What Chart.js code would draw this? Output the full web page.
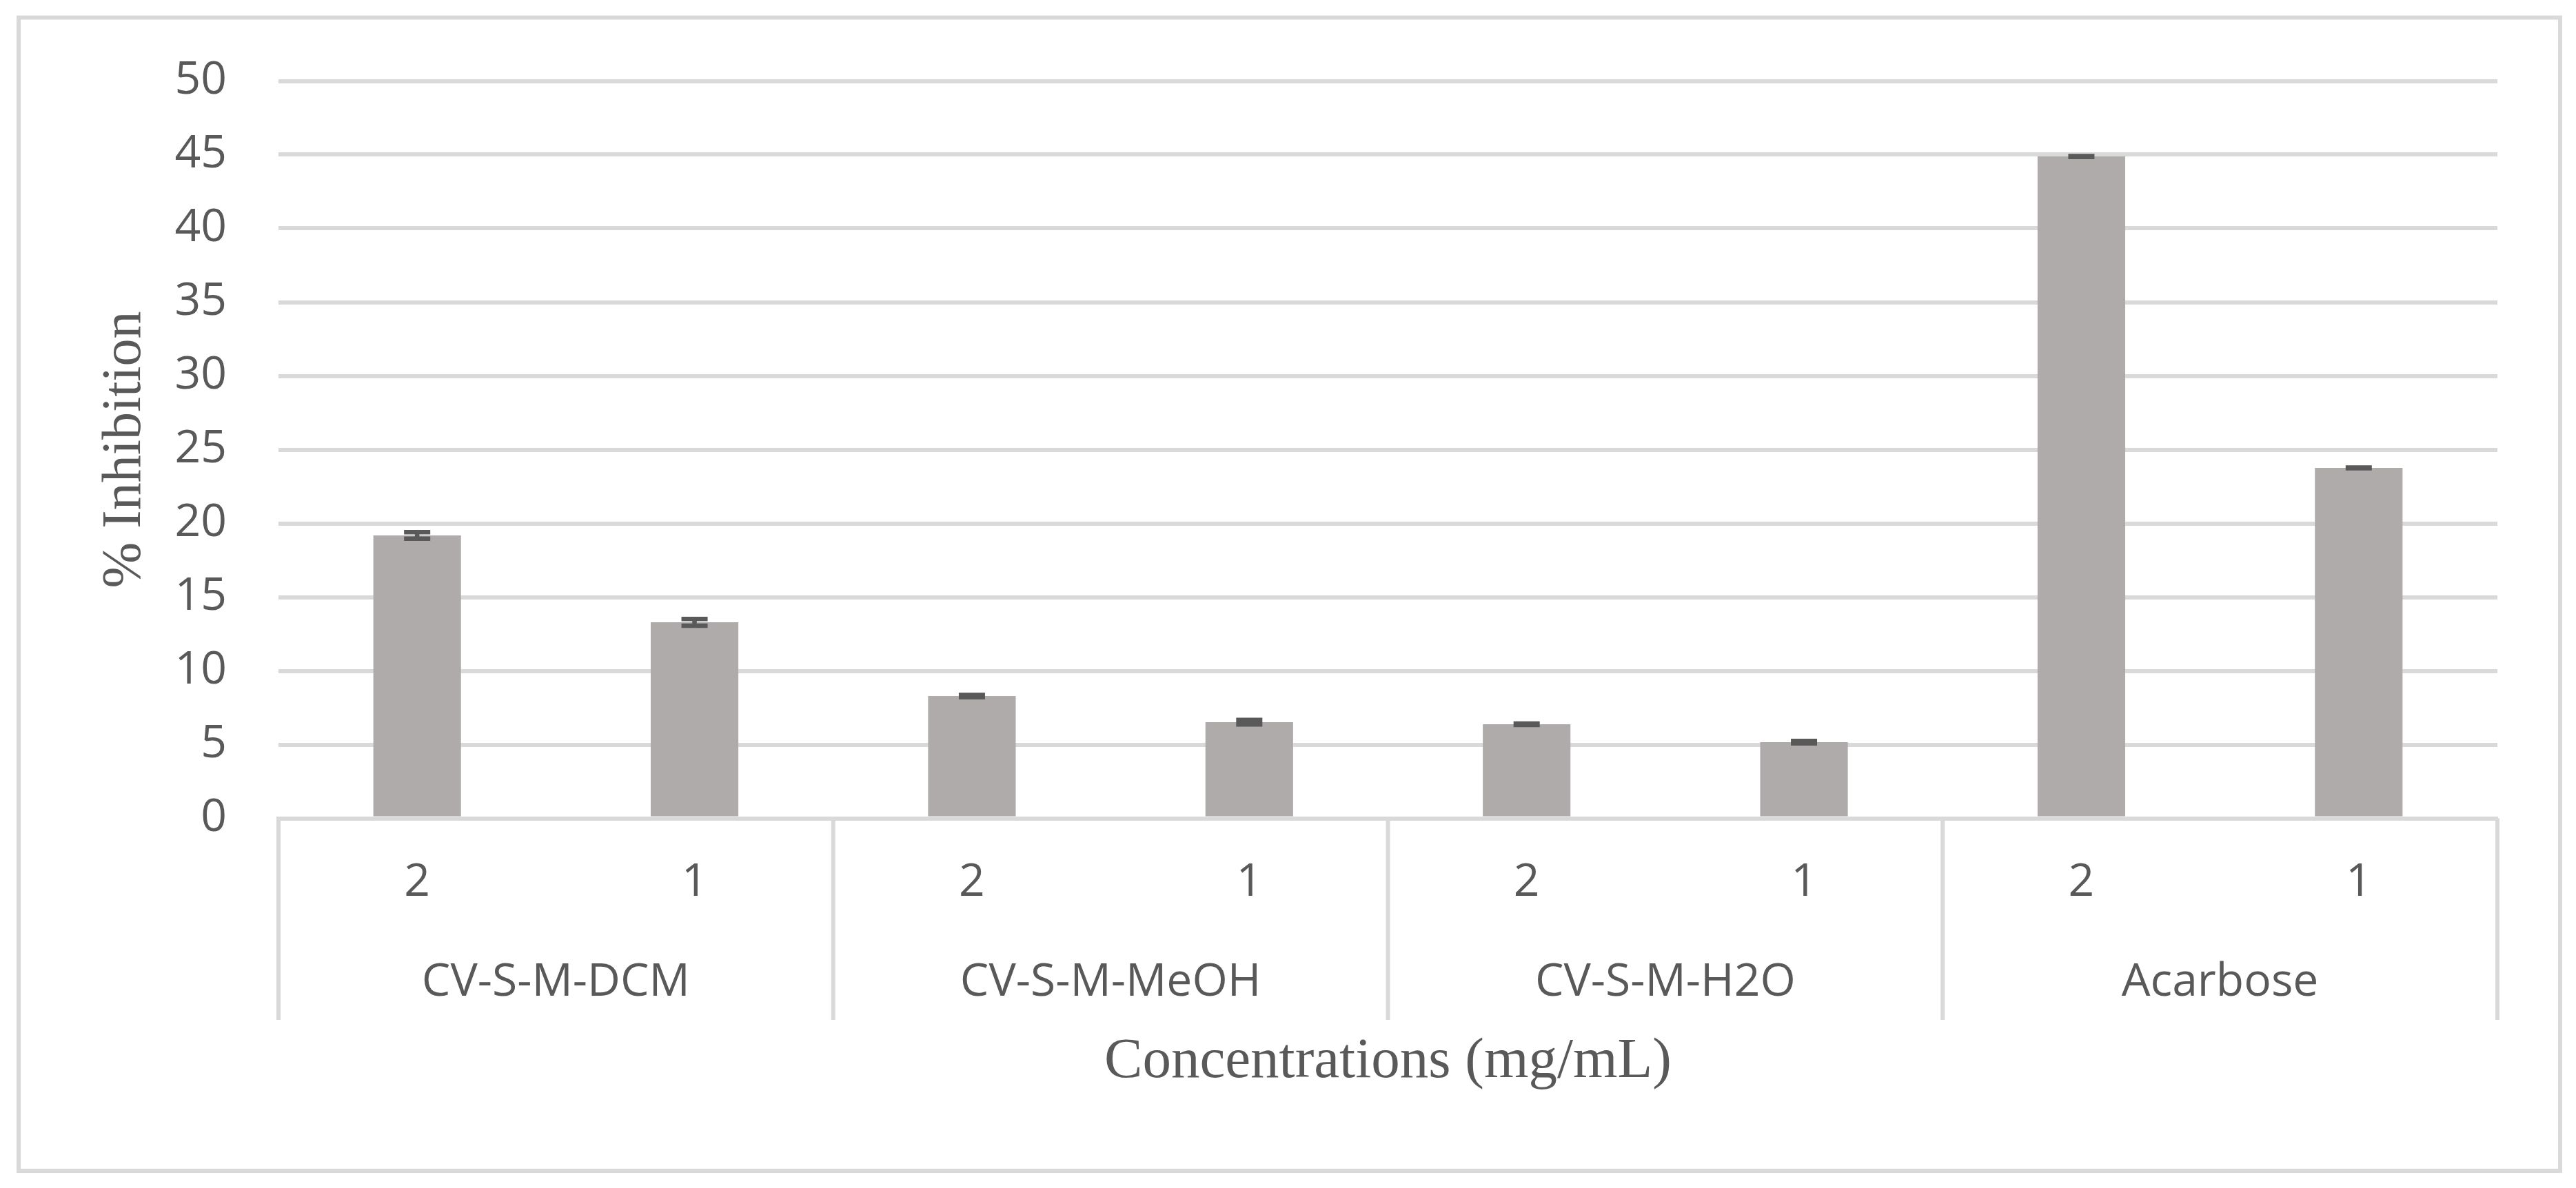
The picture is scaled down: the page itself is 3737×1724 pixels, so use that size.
<!DOCTYPE html>
<html>
<head>
<meta charset="utf-8">
<script src="https://cdn.jsdelivr.net/npm/chart.js@4.4.1/dist/chart.umd.min.js"></script>
<style>
  html, body { margin: 0; padding: 0; background: #fff; }
  canvas { display: block; }
</style>
</head>
<body>
<canvas id="chart" width="3737" height="1724"></canvas>
<script>
// data
const groups = ['CV-S-M-DCM', 'CV-S-M-MeOH', 'CV-S-M-H2O', 'Acarbose'];
const concentrations = ['2', '1', '2', '1', '2', '1', '2', '1'];
const inhibition = [19.18, 13.29, 8.29, 6.52, 6.38, 5.16, 44.88, 23.76];
const errors = [0.22, 0.23, 0.08, 0.15, 0.05, 0.08, 0.03, 0.02];
const yTicks = [0, 5, 10, 15, 20, 25, 30, 35, 40, 45, 50];

const gridColor = '#d9d9d9';
const textColor = '#595959';

// white background + light frame round the whole chart
const framePlugin = {
  id: 'frame',
  beforeDraw(chart) {
    const ctx = chart.ctx;
    ctx.save();
    ctx.fillStyle = '#fff';
    ctx.fillRect(0, 0, chart.width, chart.height);
    ctx.strokeStyle = gridColor;
    ctx.lineWidth = 6;
    ctx.strokeRect(27, 25.5, 3714 - 27, 1699 - 25.5);
    ctx.restore();
  }
};

// error bars, from the errors array through the y scale
const errorBarPlugin = {
  id: 'errorBars',
  afterDatasetsDraw(chart) {
    const ctx = chart.ctx;
    const y = chart.scales.y;
    const meta = chart.getDatasetMeta(0);
    ctx.save();
    ctx.strokeStyle = '#595959';
    ctx.lineWidth = 6.5;
    meta.data.forEach((bar, i) => {
      const v = inhibition[i];
      const e = errors[i];
      const top = y.getPixelForValue(v + e);
      const bot = y.getPixelForValue(v - e);
      const cx = bar.x;
      ctx.beginPath();
      ctx.moveTo(cx, top);
      ctx.lineTo(cx, bot);
      ctx.moveTo(cx - 19, top);
      ctx.lineTo(cx + 19, top);
      ctx.moveTo(cx - 19, bot);
      ctx.lineTo(cx + 19, bot);
      ctx.stroke();
    });
    ctx.restore();
  }
};

// second level of the category axis: group boxes and names
const groupAxisPlugin = {
  id: 'groupAxis',
  afterDraw(chart) {
    const ctx = chart.ctx;
    const x = chart.scales.x;
    const per = concentrations.length / groups.length;
    const cw = (x.right - x.left) / concentrations.length;
    const top = x.top;
    const bottom = 1480;
    ctx.save();
    ctx.strokeStyle = gridColor;
    ctx.lineWidth = 6;
    for (let k = 0; k <= groups.length; k++) {
      const px = x.left + k * per * cw;
      ctx.beginPath();
      ctx.moveTo(px, top);
      ctx.lineTo(px, bottom);
      ctx.stroke();
    }
    ctx.fillStyle = textColor;
    ctx.font = '66px "Open Sans"';
    ctx.textAlign = 'center';
    ctx.textBaseline = 'middle';
    groups.forEach((g, k) => {
      const a = x.getPixelForTick(k * per);
      const b = x.getPixelForTick(k * per + per - 1);
      ctx.fillText(g, (a + b) / 2, 1426);
    });
    ctx.restore();
  }
};

const ctx = document.getElementById('chart').getContext('2d');
const chart = new Chart(ctx, {
  type: 'bar',
  data: {
    labels: concentrations,
    datasets: [{
      label: '% Inhibition',
      data: inhibition,
      backgroundColor: '#afabab',
      borderWidth: 0,
      categoryPercentage: 1.0,
      barPercentage: 0.316
    }]
  },
  options: {
    responsive: false,
    animation: false,
    devicePixelRatio: 1,
    layout: {
      padding: { top: 117.5, right: 114, bottom: 0, left: 0 }
    },
    plugins: {
      legend: { display: false },
      tooltip: { enabled: false }
    },
    scales: {
      x: {
        grid: { display: false, drawTicks: false },
        border: { display: true, color: gridColor, width: 6 },
        ticks: {
          color: textColor,
          font: { family: 'Open Sans', size: 66 },
          padding: 54,
          maxRotation: 0,
          autoSkip: false
        },
        title: {
          display: true,
          text: 'Concentrations (mg/mL)',
          color: textColor,
          font: { family: 'Liberation Serif', size: 83 },
          padding: { top: 0, bottom: 133 }
        },
        afterFit(scale) { scale.height = 1724 - 1187.5; }
      },
      y: {
        min: 0,
        max: 50,
        grid: { color: gridColor, lineWidth: 6, drawTicks: false },
        border: { display: false },
        afterBuildTicks(scale) {
          scale.ticks = yTicks.map(v => ({ value: v }));
        },
        ticks: {
          color: textColor,
          font: { family: 'Open Sans', size: 66 },
          padding: 75
        },
        title: {
          display: true,
          text: '% Inhibition',
          color: textColor,
          font: { family: 'Liberation Serif', size: 80 },
          padding: { top: 134, bottom: 0 }
        },
        afterFit(scale) { scale.width = 404; }
      }
    }
  },
  plugins: [framePlugin, errorBarPlugin, groupAxisPlugin]
});
</script>
</body>
</html>
